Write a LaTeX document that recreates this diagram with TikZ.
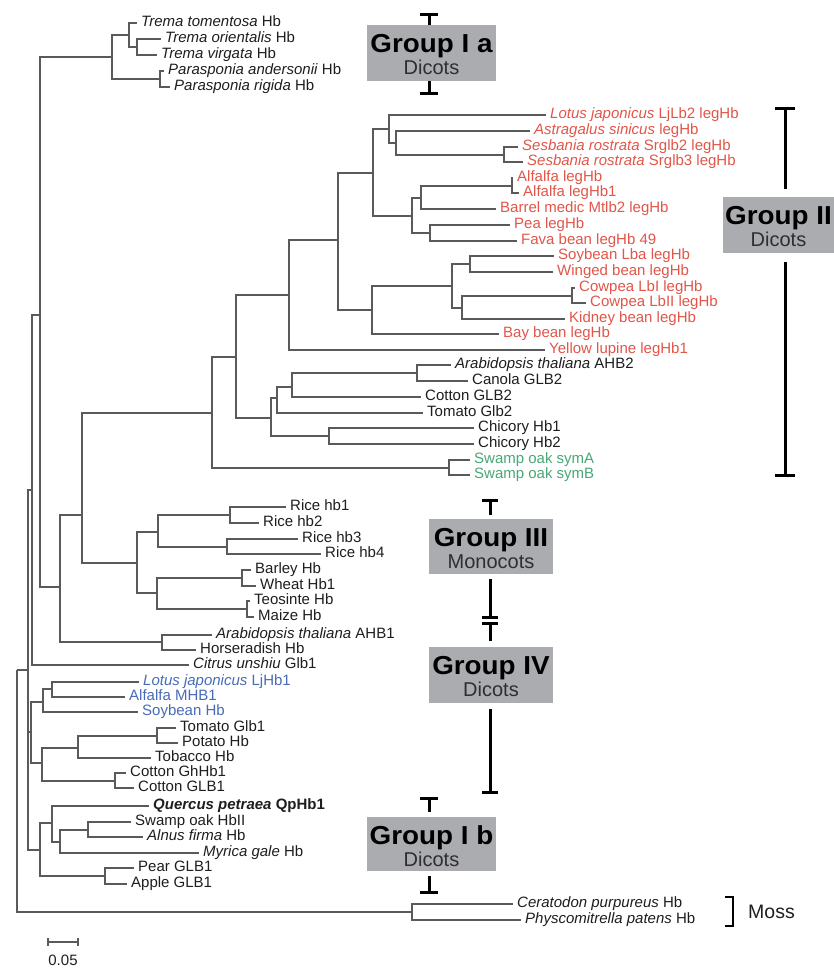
\documentclass[tikz,border=0pt]{standalone}
\usepackage{fontspec}
\setmainfont{Liberation Sans}
\newfontfamily\grpfont[FakeStretch=1.07]{Liberation Sans}
\definecolor{treegray}{RGB}{90,90,90}
\definecolor{txtblack}{RGB}{30,30,30}
\definecolor{legred}{RGB}{226,86,74}
\definecolor{lblue}{RGB}{72,108,184}
\definecolor{lgreen}{RGB}{72,168,118}
\definecolor{boxgray}{RGB}{170,172,176}
\definecolor{subgray}{RGB}{45,45,50}
\tikzset{
  leaf/.style={anchor=west, inner xsep=4pt, inner ysep=0pt, text height=7pt, text depth=0pt,
    font=\fontsize{15}{18}\selectfont, text=txtblack},
  leafR/.style={leaf, text=legred},
  leafB/.style={leaf, text=lblue},
  leafG/.style={leaf, text=lgreen},
  br/.style={draw=treegray, line width=1.6pt},
  rangebar/.style={draw=black, line width=3pt},
  grpbox/.style={fill=boxgray, draw=none, inner sep=0pt},
  grptitle/.style={anchor=base, inner sep=0pt, text=black, font=\grpfont\bfseries\fontsize{26}{26}\selectfont},
  grpsub/.style={anchor=base, inner sep=0pt, text=subgray, font=\fontsize{20}{20}\selectfont},
}
\begin{document}
\begin{tikzpicture}[x=1pt,y=-1pt]
\useasboundingbox (0,0) rectangle (834,969);
\fill[white] (0,0) rectangle (834,969);

% ---------- leaves ----------
\node[leaf] (L1) at (137,23) {\textit{Trema tomentosa} Hb};
\node[leaf] (L2) at (161,39) {\textit{Trema orientalis} Hb};
\node[leaf] (L3) at (157,55) {\textit{Trema virgata} Hb};
\node[leaf] (L4) at (164,71) {\textit{Parasponia andersonii} Hb};
\node[leaf] (L5) at (170,87) {\textit{Parasponia rigida} Hb};
\node[leafR] (L6) at (546,115) {\textit{Lotus japonicus} LjLb2 legHb};
\node[leafR] (L7) at (530,131) {\textit{Astragalus sinicus} legHb};
\node[leafR] (L8) at (518,147) {\textit{Sesbania rostrata} Srglb2 legHb};
\node[leafR] (L9) at (523,162) {\textit{Sesbania rostrata} Srglb3 legHb};
\node[leafR] (L10) at (513,178) {Alfalfa legHb};
\node[leafR] (L11) at (519,193) {Alfalfa legHb1};
\node[leafR] (L12) at (496,209) {Barrel medic Mtlb2 legHb};
\node[leafR] (L13) at (510,225) {Pea legHb};
\node[leafR] (L14) at (517,241) {Fava bean legHb 49};
\node[leafR] (L15) at (554,256) {Soybean Lba legHb};
\node[leafR] (L16) at (553,272) {Winged bean legHb};
\node[leafR] (L17) at (575,288) {Cowpea LbI legHb};
\node[leafR] (L18) at (586,303) {Cowpea LbII legHb};
\node[leafR] (L19) at (565,319) {Kidney bean legHb};
\node[leafR] (L20) at (499,334) {Bay bean legHb};
\node[leafR] (L21) at (545,350) {Yellow lupine legHb1};
\node[leaf] (L22) at (451,365) {\textit{Arabidopsis thaliana} AHB2};
\node[leaf] (L23) at (468,381) {Canola GLB2};
\node[leaf] (L24) at (421,397) {Cotton GLB2};
\node[leaf] (L25) at (423,413) {Tomato Glb2};
\node[leaf] (L26) at (474,428) {Chicory Hb1};
\node[leaf] (L27) at (474,444) {Chicory Hb2};
\node[leafG] (L28) at (470,460) {Swamp oak symA};
\node[leafG] (L29) at (470,475) {Swamp oak symB};
\node[leaf] (L30) at (286,507) {Rice hb1};
\node[leaf] (L31) at (259,523) {Rice hb2};
\node[leaf] (L32) at (298,539) {Rice hb3};
\node[leaf] (L33) at (321,554) {Rice hb4};
\node[leaf] (L34) at (251,570) {Barley Hb};
\node[leaf] (L35) at (256,586) {Wheat Hb1};
\node[leaf] (L36) at (250,601) {Teosinte Hb};
\node[leaf] (L37) at (254,617) {Maize Hb};
\node[leaf] (L38) at (212,635) {\textit{Arabidopsis thaliana} AHB1};
\node[leaf] (L39) at (196,650) {Horseradish Hb};
\node[leaf] (L40) at (189,665) {\textit{Citrus unshiu} Glb1};
\node[leafB] (L41) at (139,682) {\textit{Lotus japonicus} LjHb1};
\node[leafB] (L42) at (125,697) {Alfalfa MHB1};
\node[leafB] (L43) at (138,712) {Soybean Hb};
\node[leaf] (L44) at (176,728) {Tomato Glb1};
\node[leaf] (L45) at (178,743) {Potato Hb};
\node[leaf] (L46) at (151,758) {Tobacco Hb};
\node[leaf] (L47) at (126,773) {Cotton GhHb1};
\node[leaf] (L48) at (134,788) {Cotton GLB1};
\node[leaf] (L49) at (149,806) {\textbf{\textit{Quercus petraea} QpHb1}};
\node[leaf] (L50) at (131,822) {Swamp oak HbII};
\node[leaf] (L51) at (143,837) {\textit{Alnus firma} Hb};
\node[leaf] (L52) at (199,853) {\textit{Myrica gale} Hb};
\node[leaf] (L53) at (134,868) {Pear GLB1};
\node[leaf] (L54) at (127,884) {Apple GLB1};
\node[leaf] (L55) at (513,904) {\textit{Ceratodon purpureus} Hb};
\node[leaf] (L56) at (521,920) {\textit{Physcomitrella patens} Hb};

% ---------- internal nodes ----------
\coordinate (root) at (17,670);
\coordinate (n28) at (28,670);
\coordinate (n32) at (32,490);
\coordinate (n40) at (40,315);
\coordinate (tA) at (112,57);
\coordinate (tB) at (129,35);
\coordinate (tC) at (137,47);
\coordinate (pP) at (160,79);
\coordinate (n60) at (60,587);
\coordinate (n82) at (82,515);
\coordinate (g2) at (212,413);
\coordinate (n236) at (236,357);
\coordinate (nLeg) at (289,295);
\coordinate (n338) at (338,240);
\coordinate (n373) at (373,173);
\coordinate (n389) at (389,129);
\coordinate (n396) at (396,143);
\coordinate (nSes) at (504,155);
\coordinate (n412) at (412,216);
\coordinate (n421) at (421,198);
\coordinate (nAlf) at (512,186);
\coordinate (nPea) at (430,233);
\coordinate (n372) at (372,310);
\coordinate (n452) at (452,286);
\coordinate (nSoy) at (470,264);
\coordinate (n462) at (462,308);
\coordinate (nCow) at (572,296);
\coordinate (n271) at (271,418);
\coordinate (n277) at (277,398);
\coordinate (n292) at (292,387);
\coordinate (nAra) at (417,373);
\coordinate (nChic) at (329,436);
\coordinate (nSym) at (449,468);
\coordinate (g3) at (137,563);
\coordinate (nRice) at (158,532);
\coordinate (nR12) at (230,515);
\coordinate (nR34) at (227,547);
\coordinate (nBar) at (157,593);
\coordinate (nBW) at (242,578);
\coordinate (nTM) at (247,609);
\coordinate (nAHB) at (162,642);
\coordinate (g4) at (31,732);
\coordinate (nLeg4) at (43,702);
\coordinate (nLA) at (52,689);
\coordinate (nSol) at (42,763);
\coordinate (nTT) at (78,748);
\coordinate (nTP) at (157,736);
\coordinate (nCot) at (115,781);
\coordinate (g1b) at (40,850);
\coordinate (nQ) at (52,823);
\coordinate (nSA) at (60,842);
\coordinate (nSwA) at (88,830);
\coordinate (nPA) at (105,876);
\coordinate (nMoss) at (412,912);

% ---------- branches ----------
\draw[br] (root) -- (n28);
\draw[br] (root) |- (nMoss);
\draw[br] (n28) |- (n32); \draw[br] (n28) |- (g4); \draw[br] (n28) |- (g1b);
\draw[br] (n32) |- (n40); \draw[br] (n32) |- (L40.west);
\draw[br] (n40) |- (tA); \draw[br] (n40) |- (n60);
\draw[br] (tA) |- (tB); \draw[br] (tA) |- (pP);
\draw[br] (tB) |- (L1.west); \draw[br] (tB) |- (tC);
\draw[br] (tC) |- (L2.west); \draw[br] (tC) |- (L3.west);
\draw[br] (pP) |- (L4.west); \draw[br] (pP) |- (L5.west);
\draw[br] (n60) |- (n82); \draw[br] (n60) |- (nAHB);
\draw[br] (n82) |- (g2); \draw[br] (n82) |- (g3);
\draw[br] (g2) |- (n236); \draw[br] (g2) |- (nSym);
\draw[br] (n236) |- (nLeg); \draw[br] (n236) |- (n271);
\draw[br] (nLeg) |- (n338); \draw[br] (nLeg) |- (L21.west);
\draw[br] (n338) |- (n373); \draw[br] (n338) |- (n372);
\draw[br] (n373) |- (n389); \draw[br] (n373) |- (n412);
\draw[br] (n389) |- (L6.west); \draw[br] (n389) |- (n396);
\draw[br] (n396) |- (L7.west); \draw[br] (n396) |- (nSes);
\draw[br] (nSes) |- (L8.west); \draw[br] (nSes) |- (L9.west);
\draw[br] (n412) |- (n421); \draw[br] (n412) |- (nPea);
\draw[br] (n421) |- (nAlf); \draw[br] (n421) |- (L12.west);
\draw[br] (nAlf) |- (L10.west); \draw[br] (nAlf) |- (L11.west);
\draw[br] (nPea) |- (L13.west); \draw[br] (nPea) |- (L14.west);
\draw[br] (n372) |- (n452); \draw[br] (n372) |- (L20.west);
\draw[br] (n452) |- (nSoy); \draw[br] (n452) |- (n462);
\draw[br] (nSoy) |- (L15.west); \draw[br] (nSoy) |- (L16.west);
\draw[br] (n462) |- (nCow); \draw[br] (n462) |- (L19.west);
\draw[br] (nCow) |- (L17.west); \draw[br] (nCow) |- (L18.west);
\draw[br] (n271) |- (n277); \draw[br] (n271) |- (nChic);
\draw[br] (n277) |- (n292); \draw[br] (n277) |- (L25.west);
\draw[br] (n292) |- (nAra); \draw[br] (n292) |- (L24.west);
\draw[br] (nAra) |- (L22.west); \draw[br] (nAra) |- (L23.west);
\draw[br] (nChic) |- (L26.west); \draw[br] (nChic) |- (L27.west);
\draw[br] (nSym) |- (L28.west); \draw[br] (nSym) |- (L29.west);
\draw[br] (g3) |- (nRice); \draw[br] (g3) |- (nBar);
\draw[br] (nRice) |- (nR12); \draw[br] (nRice) |- (nR34);
\draw[br] (nR12) |- (L30.west); \draw[br] (nR12) |- (L31.west);
\draw[br] (nR34) |- (L32.west); \draw[br] (nR34) |- (L33.west);
\draw[br] (nBar) |- (nBW); \draw[br] (nBar) |- (nTM);
\draw[br] (nBW) |- (L34.west); \draw[br] (nBW) |- (L35.west);
\draw[br] (nTM) |- (L36.west); \draw[br] (nTM) |- (L37.west);
\draw[br] (nAHB) |- (L38.west); \draw[br] (nAHB) |- (L39.west);
\draw[br] (g4) |- (nLeg4); \draw[br] (g4) |- (nSol);
\draw[br] (nLeg4) |- (nLA); \draw[br] (nLeg4) |- (L43.west);
\draw[br] (nLA) |- (L41.west); \draw[br] (nLA) |- (L42.west);
\draw[br] (nSol) |- (nTT); \draw[br] (nSol) |- (nCot);
\draw[br] (nTT) |- (nTP); \draw[br] (nTT) |- (L46.west);
\draw[br] (nTP) |- (L44.west); \draw[br] (nTP) |- (L45.west);
\draw[br] (nCot) |- (L47.west); \draw[br] (nCot) |- (L48.west);
\draw[br] (g1b) |- (nQ); \draw[br] (g1b) |- (nPA);
\draw[br] (nQ) |- (L49.west); \draw[br] (nQ) |- (nSA);
\draw[br] (nSA) |- (nSwA); \draw[br] (nSA) |- (L52.west);
\draw[br] (nSwA) |- (L50.west); \draw[br] (nSwA) |- (L51.west);
\draw[br] (nPA) |- (L53.west); \draw[br] (nPA) |- (L54.west);
\draw[br] (nMoss) |- (L55.west); \draw[br] (nMoss) |- (L56.west);

% ---------- group boxes ----------
\node[grpbox, minimum width=129pt, minimum height=56pt] (boxIa) at (431.5,53) {};
\node[grptitle] (tIa) at (431.5,52) {Group I a};
\node[grpsub] (sIa) at (431.5,74) {Dicots};

\node[grpbox, minimum width=111pt, minimum height=56pt] (boxII) at (778.5,225) {};
\node[grptitle] (tII) at (778.5,224) {Group II};
\node[grpsub] (sII) at (778.5,246) {Dicots};

\node[grpbox, minimum width=124pt, minimum height=55pt] (boxIII) at (491,546.5) {};
\node[grptitle] (tIII) at (491,546) {Group III};
\node[grpsub] (sIII) at (491,568) {Monocots};

\node[grpbox, minimum width=124pt, minimum height=56pt] (boxIV) at (491,675) {};
\node[grptitle] (tIV) at (491,674) {Group IV};
\node[grpsub] (sIV) at (491,696) {Dicots};

\node[grpbox, minimum width=129pt, minimum height=54pt] (boxIb) at (431.5,844) {};
\node[grptitle] (tIb) at (431.5,844) {Group I b};
\node[grpsub] (sIb) at (431.5,866) {Dicots};

% ---------- range bars ----------
\coordinate (iaTL) at (420,14); \coordinate (iaTR) at (438,14); \coordinate (iaT) at (429,14);
\coordinate (iaBL) at (420,93); \coordinate (iaBR) at (438,93); \coordinate (iaB) at (429,93);
\draw[rangebar] (iaTL) -- (iaTR); \draw[rangebar] (iaT) -- (iaT |- boxIa.north);
\draw[rangebar] (iaBL) -- (iaBR); \draw[rangebar] (iaB) -- (iaB |- boxIa.south);

\coordinate (iiTL) at (775,108); \coordinate (iiTR) at (795,108); \coordinate (iiT) at (785,108);
\coordinate (iiA) at (785,189); \coordinate (iiB) at (785,262);
\coordinate (iiBL) at (775,475); \coordinate (iiBR) at (795,475); \coordinate (iiE) at (785,475);
\draw[rangebar] (iiTL) -- (iiTR); \draw[rangebar] (iiT) -- (iiA);
\draw[rangebar] (iiB) -- (iiE); \draw[rangebar] (iiBL) -- (iiBR);

\coordinate (iiiTL) at (482,500); \coordinate (iiiTR) at (498,500); \coordinate (iiiT) at (490,500);
\coordinate (iiiS) at (490,515);
\coordinate (iiiA) at (490,579); \coordinate (iiiE) at (490,617);
\coordinate (iiiEL) at (482,617); \coordinate (iiiER) at (498,617);
\coordinate (ivTL) at (482,623); \coordinate (ivTR) at (498,623); \coordinate (ivT) at (490,623);
\coordinate (ivS) at (490,641);
\coordinate (ivA) at (490,709); \coordinate (ivE) at (490,792);
\coordinate (ivEL) at (482,792); \coordinate (ivER) at (498,792);
\draw[rangebar] (iiiTL) -- (iiiTR); \draw[rangebar] (iiiT) -- (iiiS);
\draw[rangebar] (iiiA) -- (iiiE); \draw[rangebar] (iiiEL) -- (iiiER);
\draw[rangebar] (ivTL) -- (ivTR); \draw[rangebar] (ivT) -- (ivS);
\draw[rangebar] (ivA) -- (ivE); \draw[rangebar] (ivEL) -- (ivER);

\coordinate (ibTL) at (420,798); \coordinate (ibTR) at (438,798); \coordinate (ibT) at (429,798);
\coordinate (ibS) at (429,812);
\coordinate (ibA) at (429,876);
\coordinate (ibBL) at (420,892); \coordinate (ibBR) at (438,892); \coordinate (ibB) at (429,892);
\draw[rangebar] (ibTL) -- (ibTR); \draw[rangebar] (ibT) -- (ibS);
\draw[rangebar] (ibA) -- (ibB); \draw[rangebar] (ibBL) -- (ibBR);

% ---------- moss bracket ----------
\coordinate (mTL) at (725,897); \coordinate (mTR) at (733,897);
\coordinate (mBR) at (733,926); \coordinate (mBL) at (725,926);
\draw[rangebar, line width=2.6pt] (mTL) -- (mTR) -- (mBR) -- (mBL);
\node[anchor=base west, inner sep=0pt, text=txtblack, font=\fontsize{19.5}{20}\selectfont] (moss) at (748,918) {Moss};

% ---------- scale bar ----------
\coordinate (sbL) at (48,942); \coordinate (sbR) at (78,942);
\draw[treegray, line width=1.4pt] (sbL) -- (sbR);
\draw[treegray, line width=1.4pt] ([yshift=4pt]sbL) -- ([yshift=-4pt]sbL);
\draw[treegray, line width=1.4pt] ([yshift=4pt]sbR) -- ([yshift=-4pt]sbR);
\node[anchor=base, inner sep=0pt, text=txtblack, font=\fontsize{15}{16}\selectfont] (sblab) at (63,965) {0.05};
\end{tikzpicture}
\end{document}
